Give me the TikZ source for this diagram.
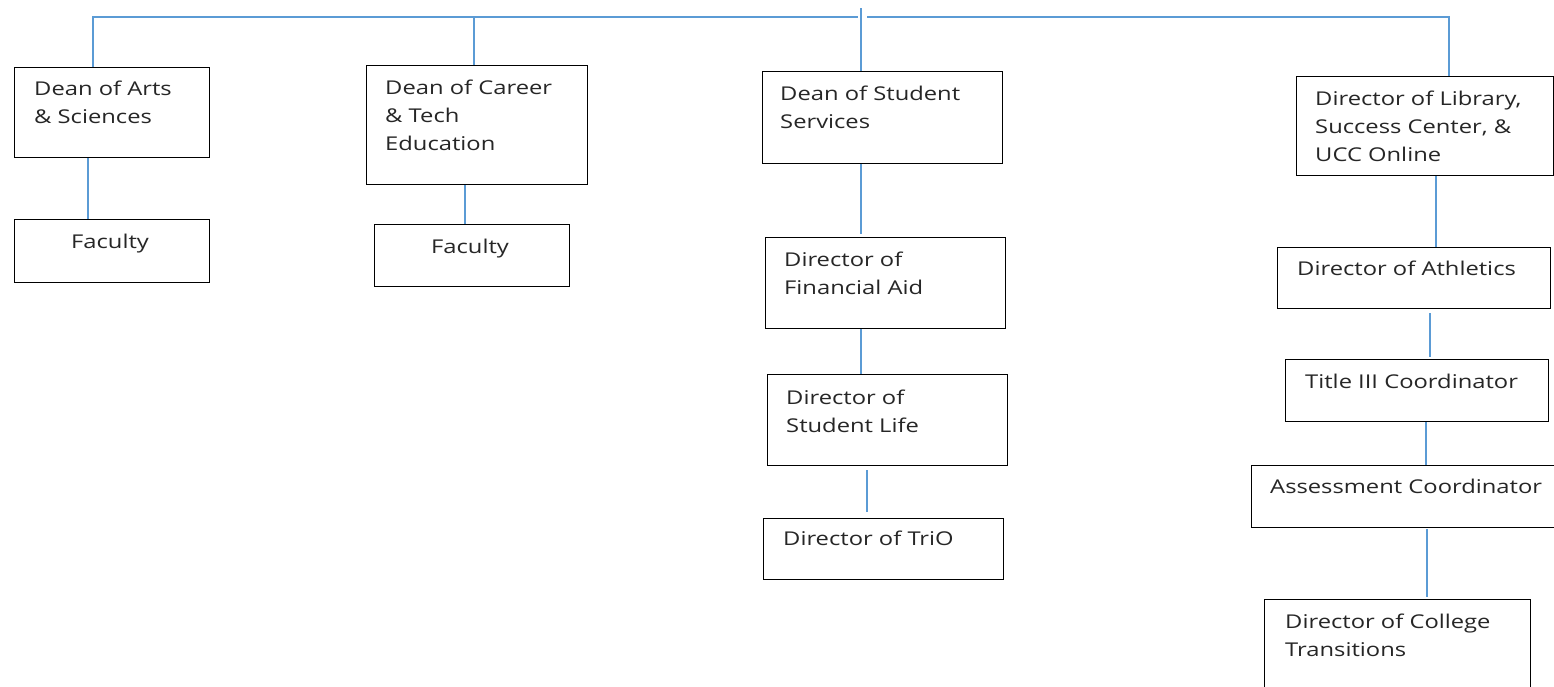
\documentclass[tikz,border=0pt]{standalone}
\usepackage{fontspec}
\newfontfamily\boxfont[FakeStretch=1.25]{Open Sans}
\definecolor{connblue}{HTML}{5B9BD5}
\definecolor{txtgray}{HTML}{262626}
\newcommand{\tp}{\rule{0pt}{15pt}}
\begin{document}
\begin{tikzpicture}[x=1pt,y=1pt,
  box/.style={draw=black, line width=1.3pt, rectangle, inner sep=0pt, anchor=north west},
  conn/.style={draw=connblue, line width=1.5pt},
  lbl/.style={anchor=north west, inner sep=0pt, align=left, text=txtgray,
    font=\boxfont\fontsize{19}{28}\selectfont}]
\useasboundingbox (0,0) rectangle (1554,-686);
\clip (0,0) rectangle (1554,-686);
\fill[white] (0,0) rectangle (1554,-686);

% boxes
\node[box, minimum width=195, minimum height=90]  (arts)   at (14,-67)   {};
\node[box, minimum width=195, minimum height=63]  (fac1)   at (14,-219)  {};
\node[box, minimum width=221, minimum height=119] (career) at (366,-65)  {};
\node[box, minimum width=195, minimum height=62]  (fac2)   at (374,-224) {};
\node[box, minimum width=240, minimum height=92]  (ss)     at (762,-71)  {};
\node[box, minimum width=240, minimum height=91]  (fin)    at (765,-237) {};
\node[box, minimum width=240, minimum height=91]  (life)   at (767,-374) {};
\node[box, minimum width=240, minimum height=61]  (trio)   at (763,-518) {};
\node[box, minimum width=257, minimum height=99]  (lib)    at (1296,-76) {};
\node[box, minimum width=273, minimum height=61]  (ath)    at (1277,-247) {};
\node[box, minimum width=263, minimum height=62]  (t3)     at (1285,-359) {};
\node[box, minimum width=320, minimum height=62]  (ass)    at (1251,-465) {};
\node[box, minimum width=266, minimum height=100] (col)    at (1264,-599) {};

% labels
\node[lbl] (tarts)   at (34,-80)   {\tp Dean of Arts\\ \& Sciences};
\node[lbl] (tfac1)   at (71,-233)  {\tp Faculty};
\node[lbl] (tcareer) at (385,-79)  {\tp Dean of Career\\ \& Tech\\ Education};
\node[lbl] (tfac2)   at (431,-238) {\tp Faculty};
\node[lbl] (tss)     at (780,-85)  {\tp Dean of Student\\ Services};
\node[lbl] (tfin)    at (784,-251) {\tp Director of\\ Financial Aid};
\node[lbl] (tlife)   at (786,-389) {\tp Director of\\ Student Life};
\node[lbl] (ttrio)   at (783,-530) {\tp Director of TriO};
\node[lbl] (tlib)    at (1315,-90) {\tp Director of Library,\\ Success Center, \&\\ UCC Online};
\node[lbl] (tath)    at (1297,-260) {\tp Director of Athletics};
\node[lbl] (tt3)     at (1305,-373) {\tp Title III Coordinator};
\node[lbl] (tass)    at (1270,-478) {\tp Assessment Coordinator};
\node[lbl] (tcol)    at (1285,-613) {\tp Director of College\\ Transitions};

% top bar
\coordinate (jA) at (93,-17);
\coordinate (jB) at (474,-17);
\coordinate (jL) at (858,-17);
\coordinate (jC) at (861,-8);
\coordinate (jR) at (867,-17);
\coordinate (jD) at (1449,-17);
\draw[conn] (arts.north -| jA) -- (jA) -- (jL);
\draw[conn] (career.north -| jB) -- (jB);
\draw[conn] (jC) -- (ss.north -| jC);
\draw[conn] (jR) -- (jD) -- (lib.north -| jD);

% child connectors
\draw[conn] ([xshift=74pt]arts.south west) -- ([xshift=74pt]fac1.north west);
\draw[conn] ([xshift=99pt]career.south west) -- ([xshift=91pt]fac2.north west);
\draw[conn] ([xshift=99pt]ss.south west) -- ([xshift=96pt,yshift=3pt]fin.north west);
\draw[conn] ([xshift=96pt]fin.south west) -- ([xshift=94pt]life.north west);
\draw[conn] ([xshift=100pt,yshift=-4pt]life.south west) -- ([xshift=104pt,yshift=6pt]trio.north west);
\draw[conn] ([xshift=140pt]lib.south west) -- ([xshift=159pt]ath.north west);
\draw[conn] ([xshift=153pt,yshift=-4pt]ath.south west) -- ([xshift=145pt,yshift=2pt]t3.north west);
\draw[conn] ([xshift=141pt]t3.south west) -- ([xshift=175pt]ass.north west);
\draw[conn] ([xshift=176pt,yshift=-1pt]ass.south west) -- ([xshift=163pt,yshift=2pt]col.north west);
\end{tikzpicture}
\end{document}
